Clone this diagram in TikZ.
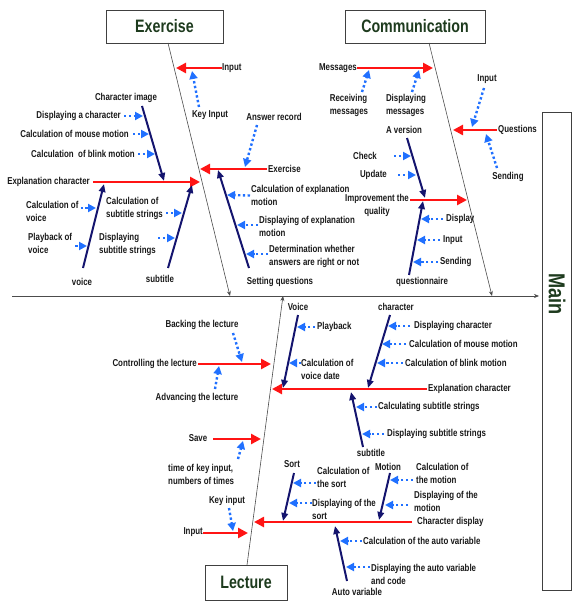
\documentclass[tikz,border=0pt]{standalone}
\usepackage{fontspec}
\setmainfont{Liberation Sans}[FakeStretch=0.79]
\usepackage{xcolor}
\usepackage{tikz}
\usetikzlibrary{arrows.meta, positioning}
\definecolor{ttlgreen}{HTML}{1E3B1E}
\definecolor{bonered}{HTML}{FF1414}
\definecolor{bonenavy}{HTML}{14146E}
\definecolor{hintblue}{HTML}{2070FF}

\begin{document}
\begin{tikzpicture}[x=1pt,y=-1pt,
 box/.style={rectangle,draw=black!75,line width=0.6pt,inner sep=0pt,
   font=\bfseries\fontsize{18}{18}\selectfont,text=ttlgreen},
 lbl/.style={inner sep=0pt,align=left,text=black!90,
   font=\bfseries\fontsize{10}{13}\selectfont},
 bone/.style={draw=black!70,line width=0.6pt,-{Stealth[length=5pt,width=4pt]}},
 cause/.style={draw=bonered,line width=2.8pt,-{Triangle[length=10pt,width=10pt]}},
 sub/.style={draw=bonenavy,line width=2pt,-{Triangle[length=8pt,width=6.5pt]}},
 hint/.style={draw=hintblue,line width=2.4pt,dash pattern=on 2.4pt off 2.4pt,
   -{Triangle[length=8pt,width=8pt]}}]
 \useasboundingbox (0,0) rectangle (582,601);
 \node[box,minimum width=117pt,minimum height=33pt] (exer) at (164.5,26.5) {Exercise};
 \node[box,minimum width=140pt,minimum height=33pt] (comm) at (415,26.5) {Communication};
 \node[box,minimum width=82pt,minimum height=35pt] (lect) at (246,582.5) {Lecture};
 \node[box,minimum width=29pt,minimum height=478pt] (main) at (556.5,351) {};
 \node[rotate=-90,inner sep=0pt,font=\bfseries\fontsize{23}{23}\selectfont,
   text=ttlgreen] (mainT) at (557,294) {Main};

 \coordinate (spL) at (12,296);   \coordinate (spR) at (539,296);
 \coordinate (exTop) at (168,43); \coordinate (exEnd) at (230,296);
 \coordinate (coTop) at (429,43); \coordinate (coEnd) at (492,296);
 \coordinate (leBot) at (247,565); \coordinate (leEnd) at (283,296);
 \draw[bone] (spL) -- (spR);
 \draw[bone] (exTop) -- (exEnd);
 \draw[bone] (coTop) -- (coEnd);
 \draw[bone] (leBot) -- (leEnd);

 \node[lbl,anchor=west] (exIn) at (222,68) {Input};
 \node[lbl] (exKey) at (210,115) {Key Input};
 \node[lbl] (exAns) at (274,117) {Answer record};
 \node[lbl,anchor=west] (exExe) at (268,169) {Exercise};
 \node[lbl] (exSet) at (280,282) {Setting questions};
 \node[lbl,anchor=west] (exCalc) at (251,195.5) {Calculation of explanation\\motion};
 \node[lbl,anchor=west] (exDisp) at (259,226.5) {Displaying of explanation\\motion};
 \node[lbl,anchor=west] (exDet) at (269,256) {Determination whether\\answers are right or not};
 \coordinate (exInT) at (176,68);   \coordinate (exKeyT) at (192,71);
 \coordinate (exAnsT) at (245,167); \coordinate (exExeT) at (200,169);
 \coordinate (exSetB) at (249,268); \coordinate (exSetT) at (218,170);
 \coordinate (exCalcT) at (227,195); \coordinate (exDispT) at (237,225);
 \coordinate (exDetT) at (246,254);
 \draw[cause] (exIn.west) -- (exInT);
 \draw[hint] ([shift={(-11,-8)}]exKey.center) -- (exKeyT);
 \draw[hint] ([shift={(-17,8)}]exAns.center) -- (exAnsT);
 \draw[cause] ([shift={(-1,0)}]exExe.west) -- (exExeT);
 \draw[sub] (exSetB) -- (exSetT);
 \draw[hint] ([shift={(-1,0)}]exCalc.west) -- (exCalcT);
 \draw[hint] ([shift={(-1,-1.5)}]exDisp.west) -- (exDispT);
 \draw[hint] ([shift={(-1,-2)}]exDet.west) -- (exDetT);

 \node[lbl,anchor=east] (exExpl) at (90,182) {Explanation character};
 \node[lbl] (exImg) at (126,98) {Character image};
 \node[lbl,anchor=east] (exDch) at (121,116) {Displaying a character};
 \node[lbl,anchor=east] (exMou) at (129,134) {Calculation of mouse motion};
 \node[lbl,anchor=east] (exBli) at (135,154) {Calculation~~of blink motion};
 \node[lbl] (exVoi) at (82,282) {voice};
 \node[lbl,anchor=west] (exCv) at (26,211) {Calculation of\\voice};
 \node[lbl,anchor=west] (exPv) at (28,243.5) {Playback of\\voice};
 \node[lbl] (exSub) at (160,279) {subtitle};
 \node[lbl,anchor=west] (exCs) at (106,208.5) {Calculation of\\subtitle strings};
 \node[lbl,anchor=west] (exDs) at (99,244.5) {Displaying\\subtitle strings};
 \coordinate (exExplT) at (200,182);
 \coordinate (exImgB) at (142,106); \coordinate (exImgT) at (164,181);
 \coordinate (exDchT) at (143,116); \coordinate (exMouT) at (149,134);
 \coordinate (exBliT) at (155,154);
 \coordinate (exVoiB) at (83,268);  \coordinate (exVoiT) at (104,184);
 \coordinate (exCvT) at (96,208);   \coordinate (exPvT) at (87,246);
 \coordinate (exSubB) at (168,268); \coordinate (exSubT) at (192,185);
 \coordinate (exCsT) at (182,213);  \coordinate (exDsT) at (175,238);
 \draw[cause] ([shift={(3,0)}]exExpl.east) -- (exExplT);
 \draw[sub] (exImgB) -- (exImgT);
 \draw[hint] ([shift={(3,0)}]exDch.east) -- (exDchT);
 \draw[hint] ([shift={(4,0)}]exMou.east) -- (exMouT);
 \draw[hint] ([shift={(3,0)}]exBli.east) -- (exBliT);
 \draw[sub] (exVoiB) -- (exVoiT);
 \draw[hint] ([shift={(2,-3)}]exCv.east) -- (exCvT);
 \draw[hint] ([shift={(3,2.5)}]exPv.east) -- (exPvT);
 \draw[sub] (exSubB) -- (exSubT);
 \draw[hint] ([shift={(3,4.5)}]exCs.east) -- (exCsT);
 \draw[hint] ([shift={(2,-6.5)}]exDs.east) -- (exDsT);

 \node[lbl,anchor=east] (coMsg) at (357,68) {Messages};
 \node[lbl] (coRcv) at (349,105) {Receiving\\messages};
 \node[lbl] (coDsp) at (406,105) {Displaying\\messages};
 \node[lbl,anchor=west] (coQ) at (498,130) {Questions};
 \node[lbl] (coIn) at (487,79) {Input};
 \node[lbl] (coSnd) at (508,177) {Sending};
 \node[lbl,align=center] (coImp) at (377,205.5) {Improvement the\\quality};
 \node[lbl] (coVer) at (404,130) {A version};
 \node[lbl,anchor=east] (coChk) at (377,156) {Check};
 \node[lbl,anchor=east] (coUpd) at (387,175) {Update};
 \node[lbl] (coQn) at (422,282) {questionnaire};
 \node[lbl,anchor=west] (coDis) at (446,219) {Display};
 \node[lbl,anchor=west] (coInp) at (443,240) {Input};
 \node[lbl,anchor=west] (coSen) at (440,262) {Sending};
 \coordinate (coMsgT) at (433,68);
 \coordinate (coRcvT) at (369,70);  \coordinate (coDspT) at (419,70);
 \coordinate (coQT) at (453,130);
 \coordinate (coInT) at (472,127);  \coordinate (coSndT) at (486,134);
 \coordinate (coImpT) at (467,200);
 \coordinate (coVerB) at (407,138); \coordinate (coVerT) at (425,198);
 \coordinate (coChkT) at (411,156); \coordinate (coUpdT) at (416,175);
 \coordinate (coQnB) at (409,275);  \coordinate (coQnT) at (423,201);
 \coordinate (coDisT) at (421,219); \coordinate (coInpT) at (417,240);
 \coordinate (coSenT) at (413,262);
 \draw[cause] (coMsg.east) -- (coMsgT);
 \draw[hint] ([shift={(13,-13)}]coRcv.center) -- (coRcvT);
 \draw[hint] ([shift={(6,-13)}]coDsp.center) -- (coDspT);
 \draw[cause] ([shift={(-1,0)}]coQ.west) -- (coQT);
 \draw[hint] ([shift={(-3,9)}]coIn.center) -- (coInT);
 \draw[hint] ([shift={(-11,-9)}]coSnd.center) -- (coSndT);
 \draw[cause] ([shift={(1,-5.5)}]coImp.east) -- (coImpT);
 \draw[sub] (coVerB) -- (coVerT);
 \draw[hint] ([shift={(17,0)}]coChk.east) -- (coChkT);
 \draw[hint] ([shift={(11,0)}]coUpd.east) -- (coUpdT);
 \draw[sub] (coQnB) -- (coQnT);
 \draw[hint] ([shift={(-3,0)}]coDis.west) -- (coDisT);
 \draw[hint] ([shift={(-3,0)}]coInp.west) -- (coInpT);
 \draw[hint] ([shift={(-2,0)}]coSen.west) -- (coSenT);

 \node[lbl,anchor=east] (leCtl) at (197,364) {Controlling the lecture};
 \node[lbl] (leBack) at (202,325) {Backing the lecture};
 \node[lbl] (leAdv) at (197,398) {Advancing the lecture};
 \node[lbl] (leSave) at (198,438) {Save};
 \node[lbl,anchor=west] (leTime) at (168,474.5) {time of key input,\\numbers of times};
 \node[lbl] (leKey) at (227,501) {Key input};
 \node[lbl,anchor=east] (leIn) at (203,532) {Input};
 \coordinate (leCtlT) at (271,364);
 \coordinate (leBackT) at (242,362); \coordinate (leAdvT) at (219,366);
 \coordinate (leSaveT) at (261,439); \coordinate (leTimeT) at (243,441);
 \coordinate (leKeyT) at (233,531);  \coordinate (leInT) at (248,533);
 \draw[cause] ([shift={(1,0)}]leCtl.east) -- (leCtlT);
 \draw[hint] ([shift={(31,8)}]leBack.center) -- (leBackT);
 \draw[hint] ([shift={(18,-9)}]leAdv.center) -- (leAdvT);
 \draw[cause] ([shift={(15,1)}]leSave.center) -- (leSaveT);
 \draw[hint] ([shift={(70,-15.5)}]leTime.west) -- (leTimeT);
 \draw[hint] ([shift={(2,7)}]leKey.center) -- (leKeyT);
 \draw[cause] ([shift={(0,1)}]leIn.east) -- (leInT);

 \node[lbl,anchor=west] (leExp) at (428,389) {Explanation character};
 \node[lbl] (leVoi) at (298,307) {Voice};
 \node[lbl,anchor=west] (lePlay) at (317,327) {Playback};
 \node[lbl,anchor=west] (leCvd) at (301,369.5) {Calculation of\\voice date};
 \node[lbl] (leChr) at (396,307) {character};
 \node[lbl,anchor=west] (leDch) at (414,326) {Displaying character};
 \node[lbl,anchor=west] (leMou) at (409,344) {Calculation of mouse motion};
 \node[lbl,anchor=west] (leBli) at (405,363) {Calculation of blink motion};
 \node[lbl] (leSub) at (371,453) {subtitle};
 \node[lbl,anchor=west] (leCss) at (378,407) {Calculating subtitle strings};
 \node[lbl,anchor=west] (leDss) at (387,434) {Displaying subtitle strings};
 \coordinate (leExpT) at (272,389);
 \coordinate (leVoiB) at (298,315);  \coordinate (leVoiT) at (283,388);
 \coordinate (lePlayT) at (297,327); \coordinate (leCvdT) at (289,363);
 \coordinate (leChrB) at (390,315);  \coordinate (leChrT) at (368,388);
 \coordinate (leDchT) at (388,326);  \coordinate (leMouT) at (382,344);
 \coordinate (leBliT) at (377,363);
 \coordinate (leSubB) at (363,447);  \coordinate (leSubT) at (351,392);
 \coordinate (leCssT) at (356,407);  \coordinate (leDssT) at (362,434);
 \draw[cause] ([shift={(-1,0)}]leExp.west) -- (leExpT);
 \draw[sub] (leVoiB) -- (leVoiT);
 \draw[hint] ([shift={(-2,0)}]lePlay.west) -- (lePlayT);
 \draw[hint] ([shift={(0,-6.5)}]leCvd.west) -- (leCvdT);
 \draw[sub] (leChrB) -- (leChrT);
 \draw[hint] ([shift={(-4,0)}]leDch.west) -- (leDchT);
 \draw[hint] ([shift={(-3,0)}]leMou.west) -- (leMouT);
 \draw[hint] ([shift={(-2,0)}]leBli.west) -- (leBliT);
 \draw[sub] (leSubB) -- (leSubT);
 \draw[hint] ([shift={(-1,0)}]leCss.west) -- (leCssT);
 \draw[hint] ([shift={(-3,0)}]leDss.west) -- (leDssT);

 \node[lbl,anchor=west] (leCd) at (417,522) {Character display};
 \node[lbl] (leSort) at (292,464) {Sort};
 \node[lbl,anchor=west] (leCso) at (317,477) {Calculation of\\the sort};
 \node[lbl,anchor=west] (leDso) at (312,509.5) {Displaying of the\\sort};
 \node[lbl] (leMot) at (388,467) {Motion};
 \node[lbl,anchor=west] (leCmo) at (416,473.5) {Calculation of\\the motion};
 \node[lbl,anchor=west] (leDmo) at (414,501.5) {Displaying of the\\motion};
 \node[lbl] (leAuto) at (357,592) {Auto variable};
 \node[lbl,anchor=west] (leCav) at (363,541) {Calculation of the auto variable};
 \node[lbl,anchor=west] (leDav) at (371,574) {Displaying the auto variable\\and code};
 \coordinate (leCdT) at (254,522);
 \coordinate (leSortB) at (294,473); \coordinate (leSortT) at (283,521);
 \coordinate (leCsoT) at (293,483);  \coordinate (leDsoT) at (289,503);
 \coordinate (leMotB) at (390,473);  \coordinate (leMotT) at (379,520);
 \coordinate (leCmoT) at (390,480);  \coordinate (leDmoT) at (385,505);
 \coordinate (leAutoB) at (347,581); \coordinate (leAutoT) at (335,526);
 \coordinate (leCavT) at (340,541);  \coordinate (leDavT) at (346,567);
 \draw[cause] ([shift={(-5,0)}]leCd.west) -- (leCdT);
 \draw[sub] (leSortB) -- (leSortT);
 \draw[hint] ([shift={(-1,6)}]leCso.west) -- (leCsoT);
 \draw[hint] ([shift={(0,-6.5)}]leDso.west) -- (leDsoT);
 \draw[sub] (leMotB) -- (leMotT);
 \draw[hint] ([shift={(-3,6.5)}]leCmo.west) -- (leCmoT);
 \draw[hint] ([shift={(-6,3.5)}]leDmo.west) -- (leDmoT);
 \draw[sub] (leAutoB) -- (leAutoT);
 \draw[hint] ([shift={(-1,0)}]leCav.west) -- (leCavT);
 \draw[hint] ([shift={(-1,-7)}]leDav.west) -- (leDavT);
\end{tikzpicture}
\end{document}
